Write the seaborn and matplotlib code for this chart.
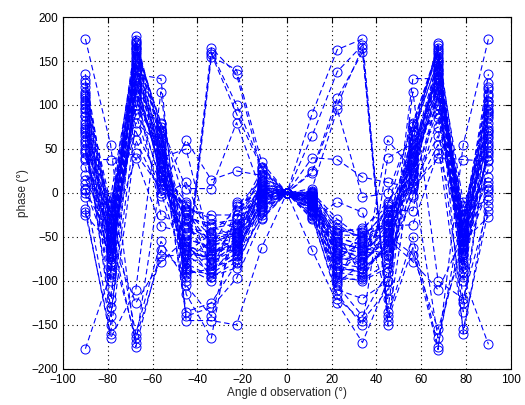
import numpy as np
import pandas as pd
import matplotlib
matplotlib.use("Agg")
import matplotlib.pyplot as plt
import seaborn as sns

# Angles d'observation (degrés)
angles = [-90, -78.75, -67.5, -56.25, -45, -33.75, -22.5, -11.25, 0,
          11.25, 22.5, 33.75, 45, 56.25, 67.5, 78.75, 90]

# Phase (°) lue pour chaque angle, une valeur par courbe (44 courbes)
ph_m90 = [128, 105, 92, 75, 60, 45, 20, 5, -22, 135, 112, 88, 70, 50, 38, 15, 0, -25,
          175, 125, 100, 82, 65, 40, 10, -18, -177, 120, 97, 78, 58, 30, 3, -5, 110, 68,
          102, 95, 87, 73, 55, 48, 108, 115]
ph_m79 = [-45, -30, -62, -90, -130, -55, -20, -75, -160, -35, -50, -95, -10, -70, 38, -40, -150, -58,
          55, -25, -82, -65, -140, -48, -5, -165, -92, -38, -60, -120, -28, -78, -52, -15, -68, -44,
          -33, -47, -57, -72, -88, -100, -22, -12]
ph_m68 = [160, 150, 130, 110, 170, 140, 120, 95, 60, 165, 145, 125, -160, 105, 45, 155, 135, 100,
          -175, 172, 118, 90, 80, 40, 162, -110, 148, 128, -165, 115, 70, 158, -125, 138, 178, -170,
          165, 152, 143, 132, 122, 168, 174, 112]
ph_m56 = [50, 35, 20, 10, 75, 30, -25, 60, 0, 80, 40, 25, -55, 45, 5, 72, 130, 15,
          -65, 65, 28, -3, 55, -38, 78, 115, 42, 22, -72, 35, 12, 68, -78, 48, 62, 18,
          38, 52, 30, 24, 70, 58, 8, 44]
ph_m45 = [-30, -20, -55, -70, -95, -60, -40, -135, -85, -15, 50, -10, -100, -75, 60, -65, -145, -25,
          -90, -35, -80, 12, -140, -45, 5, -115, -58, -28, -70, -85, -18, -88, -52, -38, -105, -62,
          -22, -48, -32, -68, -78, -56, -12, -92]
ph_m34 = [-60, -50, -80, -90, 160, -70, -45, -125, -100, -30, -65, -85, 155, -55, 15, -75, -145, -40,
          165, -68, -95, -58, -130, -48, 5, -165, -88, -35, -72, 158, -25, -92, -62, -52, -140, -78,
          -58, -66, -82, -46, -74, -96, -38, -86]
ph_m23 = [-50, -45, -70, -60, 100, -55, -20, -80, -15, -40, -65, -75, 140, -48, 25, -62, -150, -35,
          135, -52, -85, -58, -97, -42, 80, -10, -68, -30, -56, 90, -25, -72, -12, -46, -38, -64,
          -44, -60, -54, -66, -36, -78, -50, -28]
ph_m11 = [5, 0, -10, -20, 30, -5, 10, -25, 15, 2, -8, -15, 35, -3, 20, -12, -62, 8,
          25, -2, -18, 3, -30, 12, 0, -22, -6, 18, -14, 28, 4, -28, -1, 6, 22, -9,
          7, -4, 14, -16, 1, 9, -7, 26]
ph_0 = [0] * 44
ph_p11 = [-5, -3, -12, -20, 25, -8, 0, -25, -15, -2, -10, -18, 90, -6, 40, -14, -65, -1,
          65, -4, -22, -9, -28, -7, 5, -30, -16, 2, -11, 23, 1, -26, -13, -3, -19, -5,
          -4, -8, -2, -14, -21, -6, 0, -10]
ph_p23 = [-60, -50, -85, -100, 108, -70, -40, -120, -95, -45, -75, -90, 163, -55, 38, -80, -125, -35,
          138, -65, -105, -58, -115, -48, 95, -10, -82, -42, -68, 100, -30, -98, -62, -52, -110, -72,
          -56, -74, -88, -64, -46, -92, -78, -102]
ph_p34 = [-70, -60, -90, -45, 160, -80, -50, -145, -100, -40, -75, -95, 175, -65, 18, -85, -170, -55,
          168, -72, -140, -62, -150, -48, -5, -22, -92, -42, -78, 165, -52, -98, -68, -58, -120, -82,
          -64, -56, -86, -74, -96, -66, -44, -80]
ph_p45 = [-40, -30, -60, -75, -135, -50, -20, -110, -85, -15, -55, 60, -140, -45, 12, -65, -100, -25,
          -145, -35, -90, -70, 40, -38, 0, -120, -58, -10, -48, -150, -18, -80, -52, -28, -100, -42,
          -32, -44, -62, -22, -54, -72, -36, -12]
ph_p56 = [48, 32, 22, 8, 78, 28, -20, 58, -2, 80, 42, 26, -50, 46, 6, 70, 130, 14,
          -62, 66, 30, -5, 56, -36, 76, 115, 40, 20, -70, 36, 10, 66, -78, 50, 60, 16,
          38, 52, 30, 24, 70, 58, 8, 44]
ph_p68 = [150, 140, 125, 108, 165, 135, 115, 90, 55, 160, 140, 120, -175, 100, 40, 150, 130, 95,
          -178, 168, 112, 85, 75, 45, 158, -100, 142, 122, -155, 110, 65, 152, -110, 132, 170, -165,
          148, 138, 128, 155, 162, 118, 145, 135]
ph_p79 = [-50, -35, -60, -85, -125, -55, -25, -70, -155, -40, -48, -90, -15, -65, 38, -42, -160, -55,
          55, -28, -80, -62, -135, -45, -10, -120, -95, -38, -58, -100, -30, -75, -50, -20, -68, -46,
          -36, -52, -64, -44, -82, -70, -26, -58]
ph_p90 = [125, 100, 90, 72, 58, 42, 18, 5, -20, 135, 110, 85, 68, 48, 36, 12, -3, -27,
          175, 120, 95, 80, 62, 38, 8, -15, -172, 118, 92, 75, 55, 28, 2, -8, 105, 65,
          100, 93, 88, 70, 52, 46, 105, 112]

columns = [ph_m90, ph_m79, ph_m68, ph_m56, ph_m45, ph_m34, ph_m23, ph_m11, ph_0,
           ph_p11, ph_p23, ph_p34, ph_p45, ph_p56, ph_p68, ph_p79, ph_p90]

rows = []
for ang, col in zip(angles, columns):
    for k, v in enumerate(col):
        rows.append({"angle": ang, "phase": v, "courbe": k})
df = pd.DataFrame(rows)

sns.set_style("white")
plt.rcParams['font.family'] = ['Liberation Sans', 'DejaVu Sans']

fig = plt.figure(figsize=(5.25, 4.05), dpi=100)
ax = fig.add_axes([0.12, 0.089, 0.853, 0.869])

sns.lineplot(data=df, x="angle", y="phase", units="courbe", estimator=None,
             color="#0000ff", linewidth=0.8, linestyle="--", dashes=False,
             marker="o", markersize=6.5, markerfacecolor="none",
             markeredgecolor="#0000ff", markeredgewidth=0.7, ax=ax, legend=False)
for ln in ax.lines:
    ln.set_dashes((5, 3))

ax.set_xlim(-100, 100)
ax.set_ylim(-200, 200)
ax.set_xticks(np.arange(-100, 101, 20))
ax.set_yticks(np.arange(-200, 201, 50))
ax.grid(True, linestyle=(0, (1, 3)), color="black", linewidth=0.8)
ax.tick_params(direction="in", top=True, right=True, labelsize=8.5, length=4,
               colors="black")
for s in ax.spines.values():
    s.set_color("black")
    s.set_linewidth(0.8)
ax.set_xlabel("Angle d observation (°)", fontsize=8.5, labelpad=1)
ax.set_ylabel("phase (°)", fontsize=8.5, labelpad=2)

fig.savefig("out.png", dpi=100)
